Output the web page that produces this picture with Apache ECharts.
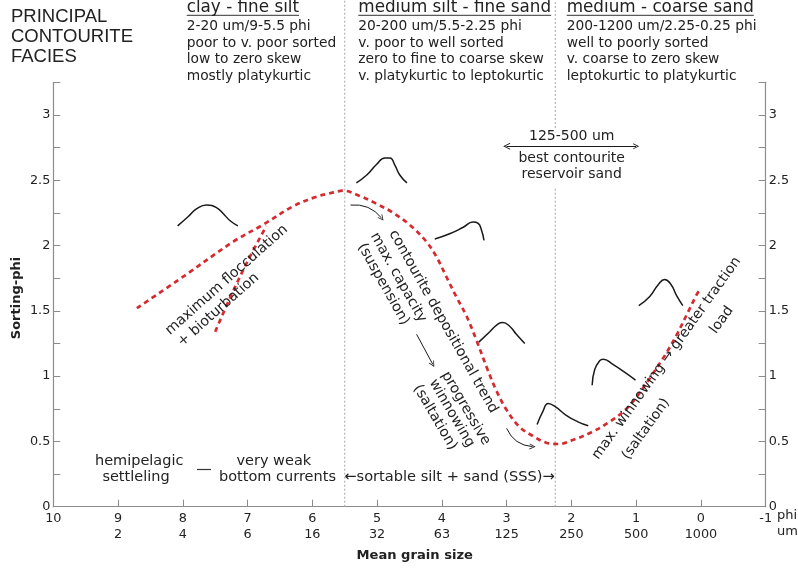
<!DOCTYPE html>
<html><head><meta charset="utf-8">
<script src="https://cdn.jsdelivr.net/npm/echarts@6/dist/echarts.min.js"></script>
<style>html,body{margin:0;padding:0;background:#fff}#c{width:798px;height:569px}</style>
</head><body><div id="c"></div>
<script>
// ---------- data ----------
const phiTicks = [10, 9, 8, 7, 6, 5, 4, 3, 2, 1, 0, -1];
const umLabels = ['', '2', '4', '6', '16', '32', '63', '125', '250', '500', '1000', ''];
const sortingLabels = [0, 0.5, 1, 1.5, 2, 2.5, 3];

// contourite depositional trend (mean grain size phi, sorting phi)
const trendMain = [[8.71,1.52],[7.97,1.77],[7.22,2.03],[6.76,2.16],[6.30,2.30],[5.96,2.37],[5.73,2.40],[5.52,2.42],[5.27,2.38],[5.01,2.32],[4.75,2.25],[4.50,2.16],[4.24,2.03],[4.08,1.91],[3.93,1.76],[3.78,1.61],[3.62,1.46],[3.47,1.28],[3.31,1.07],[3.16,0.89],[3.00,0.74],[2.80,0.61],[2.59,0.54],[2.39,0.49],[2.19,0.48],[1.98,0.51],[1.69,0.57],[1.41,0.65],[1.15,0.75],[0.95,0.87],[0.74,1.02],[0.53,1.18],[0.36,1.33],[0.20,1.49],[0.07,1.62],[0.02,1.66]];
const trendBioturbation = [[7.50,1.34],[7.27,1.60],[7.01,1.87],[6.71,2.15]];

// grain-size distribution sketches
const glyph1 = [[8.08,2.15],[7.92,2.22],[7.79,2.28],[7.63,2.31],[7.48,2.29],[7.35,2.23],[7.27,2.19],[7.15,2.15]];
const glyph2 = [[5.32,2.48],[5.16,2.54],[5.01,2.62],[4.88,2.67],[4.80,2.67],[4.73,2.62],[4.65,2.54],[4.54,2.48]];
const glyph3 = [[4.11,2.05],[3.88,2.09],[3.67,2.14],[3.52,2.18],[3.44,2.17],[3.39,2.12],[3.35,2.04]];
const glyph4 = [[3.43,1.26],[3.26,1.34],[3.13,1.40],[3.06,1.41],[2.95,1.38],[2.85,1.32],[2.72,1.25]];
const glyph5 = [[2.53,0.63],[2.44,0.73],[2.36,0.79],[2.26,0.77],[2.08,0.70],[1.90,0.65],[1.74,0.62]];
const glyph6 = [[1.68,0.93],[1.64,1.05],[1.56,1.12],[1.51,1.13],[1.36,1.09],[1.18,1.03],[1.01,0.97]];
const glyph7 = [[0.96,1.54],[0.79,1.61],[0.66,1.70],[0.56,1.74],[0.46,1.70],[0.38,1.62],[0.28,1.54]];

// facies boundaries (phi)
const boundaryFine = 5.5;
const boundaryCoarse = 2.25;

// arrows
const arrowSuspension = [[5.41,2.31],[4.93,2.21]];
const arrowWinnowing = [[4.39,1.32],[4.14,1.09]];
const arrowSaltation = [[3.00,0.60],[2.60,0.46]];
const reservoirRange = [[3,2.76],[1,2.76]];

// header texts
const sectionTitles = ['clay - fine silt', 'medium silt - fine sand', 'medium - coarse sand'];
const sectionDetails = [
  ['2-20 um/9-5.5 phi', 'poor to v. poor sorted', 'low to zero skew', 'mostly platykurtic'],
  ['20-200 um/5.5-2.25 phi', 'v. poor to well sorted', 'zero to fine to coarse skew', 'v. platykurtic to leptokurtic'],
  ['200-1200 um/2.25-0.25 phi', 'well to poorly sorted', 'v. coarse to zero skew', 'leptokurtic to platykurtic']
];
const titleLines = ['PRINCIPAL', 'CONTOURITE', 'FACIES'];

// ---------- chart ----------
const FF = 'DejaVu Sans';
const TXT = '#222';
const AX = '#8c8c8c';
const RED = '#d52a2e';
const chevron = 'path://M0,10L5,0L10,10L8.6,10L5,2.8L1.4,10Z';

const measureCtx = document.createElement('canvas').getContext('2d');
function textWidth(t, size, family) { measureCtx.font = size + 'px "' + family + '"'; return measureCtx.measureText(t).width; }

function txt(t, x, y, o) {
  o = o || {};
  return { type: 'text', x: x, y: y, rotation: (o.rot || 0) * Math.PI / 180, silent: true, z: 10,
    style: { text: t, fill: TXT, fontFamily: o.ff || FF, fontSize: o.size || 14,
      fontWeight: o.bold ? 'bold' : 'normal', align: o.align || 'center', verticalAlign: 'middle' } };
}

const graphics = [];
titleLines.forEach((t, i) => graphics.push(txt(t, 11, 17.2 + 20 * i, { ff: 'Liberation Sans', size: 18.5, align: 'left' })));
const secX = [186.7, 358.3, 566.7];
sectionTitles.forEach((t, i) => {
  graphics.push(txt(t, secX[i], 7.2, { size: 16.8, align: 'left' }));
  const w = textWidth(t, 16.8, FF);
  graphics.push({ type: 'line', silent: true, shape: { x1: secX[i], y1: 15.3, x2: secX[i] + w, y2: 15.3 }, style: { stroke: '#333', lineWidth: 1 } });
  sectionDetails[i].forEach((d, j) => graphics.push(txt(d, secX[i], 26.4 + 16.7 * j, { size: 13.8, align: 'left' })));
});
// bottom annotations
graphics.push(txt('hemipelagic', 139.2, 461, { size: 14.5 }));
graphics.push(txt('settleling', 136, 477.3, { size: 14.5 }));
graphics.push({ type: 'line', silent: true, shape: { x1: 197, y1: 469.5, x2: 211, y2: 469.5 }, style: { stroke: '#333', lineWidth: 1.2 } });
graphics.push(txt('very weak', 273.8, 461, { size: 14.5 }));
graphics.push(txt('bottom currents', 277.5, 477.3, { size: 14.5 }));
graphics.push(txt('\u2190sortable silt + sand (SSS)\u2192', 449.5, 477.3, { size: 14.6 }));
// reservoir
graphics.push(txt('125-500 um', 571.7, 136.7, { size: 14 }));
graphics.push(txt('best contourite', 571.7, 158.3, { size: 14 }));
graphics.push(txt('reservoir sand', 571.7, 174.3, { size: 14 }));
// rotated annotations
graphics.push(txt('maximum flocculation', 226.7, 280, { size: 14.2, rot: 41.6 }));
graphics.push(txt('+ bioturbation', 218.3, 310, { size: 14.2, rot: 41.6 }));
graphics.push(txt('contourite depositional trend', 443.3, 321.7, { size: 14.3, rot: -60.6 }));
graphics.push(txt('max. capacity', 398.3, 277.5, { size: 14.3, rot: -60.6 }));
graphics.push(txt('(suspension)', 383.3, 284.2, { size: 14.3, rot: -60.6 }));
graphics.push(txt('progressive', 465.8, 408.3, { size: 14.3, rot: -59.6 }));
graphics.push(txt('winnowing', 451.7, 413.3, { size: 14.3, rot: -59.6 }));
graphics.push(txt('(saltation)', 435, 417.5, { size: 14.3, rot: -59.6 }));
graphics.push(txt('max. winnowing \u2192 greater traction', 666.7, 358.3, { size: 14, rot: 54.4 }));
graphics.push(txt('(saltation)', 646, 429, { size: 14, rot: 54.4 }));
graphics.push(txt('load', 721.7, 320, { size: 14, rot: 54.4 }));
// axis names
graphics.push(txt('Mean grain size', 414.7, 555.3, { size: 13.1, bold: true }));
graphics.push(txt('Sorting-phi', 16.7, 298, { size: 13, bold: true, rot: 90 }));
graphics.push(txt('phi', 777, 516, { size: 13, align: 'left' }));
graphics.push(txt('um', 777, 532, { size: 13, align: 'left' }));

function yAxisCfg(pos) {
  return {
    type: 'value', position: pos, min: 0, max: 3.25, interval: 0.25,
    axisLine: { show: true, onZero: false, lineStyle: { color: AX, width: 1.2 } },
    axisTick: { show: true, inside: true, length: 7, lineStyle: { color: AX } },
    splitLine: { show: false },
    axisLabel: { show: true, margin: 3, color: TXT, fontFamily: FF, fontSize: 12.8,
      formatter: v => sortingLabels.some(s => Math.abs(s - v) < 1e-6) ? String(v) : '' }
  };
}

const trendStyle = { color: RED, width: 2.7, type: [5, 4] };
function glyphSeries(d) {
  return { type: 'line', data: d, smooth: 0.5, showSymbol: false, symbol: 'none', silent: true,
    lineStyle: { color: '#1a1a1a', width: 1.5 }, z: 4 };
}
function guide(d) {
  return { type: 'line', data: d, showSymbol: false, symbol: 'none', silent: true, clip: false,
    lineStyle: { color: '#a8a8a8', width: 1, type: [2, 2] }, z: 1 };
}

const option = {
  animation: false,
  backgroundColor: '#fff',
  grid: { left: 53.3, right: 32.3, top: 82.3, bottom: 62.3, containLabel: false },
  xAxis: {
    type: 'value', min: -1, max: 10, interval: 1, inverse: true,
    axisLine: { show: true, onZero: false, lineStyle: { color: AX, width: 1.2 } },
    axisTick: { show: true, inside: true, length: 7, lineStyle: { color: AX } },
    splitLine: { show: false },
    axisLabel: { color: TXT, fontFamily: FF, fontSize: 12.8, lineHeight: 16, margin: 4,
      formatter: v => { const i = phiTicks.indexOf(v); return v + '\n' + (i >= 0 ? umLabels[i] : ''); } }
  },
  yAxis: [yAxisCfg('left'), yAxisCfg('right')],
  graphic: graphics,
  series: [
    guide([[boundaryFine, 0], [boundaryFine, 3.88]]),
    guide([[boundaryCoarse, 0], [boundaryCoarse, 2.45]]),
    guide([[boundaryCoarse, 2.90], [boundaryCoarse, 3.88]]),
    { type: 'line', data: trendMain, smooth: 0.35, showSymbol: false, symbol: 'none', silent: true, lineStyle: trendStyle, z: 3 },
    { type: 'line', data: trendBioturbation, smooth: 0.35, showSymbol: false, symbol: 'none', silent: true, lineStyle: trendStyle, z: 3 },
    glyphSeries(glyph1), glyphSeries(glyph2), glyphSeries(glyph3), glyphSeries(glyph4),
    glyphSeries(glyph5), glyphSeries(glyph6), glyphSeries(glyph7),
    { type: 'lines', coordinateSystem: 'cartesian2d', silent: true, z: 5,
      symbol: ['none', chevron], symbolSize: [7, 6],
      lineStyle: { color: '#1a1a1a', width: 1, opacity: 1 },
      data: [
        { coords: arrowSuspension, lineStyle: { curveness: 0.27 } },
        { coords: arrowWinnowing, lineStyle: { curveness: 0 } },
        { coords: arrowSaltation, lineStyle: { curveness: -0.3 } }
      ] },
    { type: 'lines', coordinateSystem: 'cartesian2d', silent: true, z: 5,
      symbol: [chevron, chevron], symbolSize: [7, 6],
      lineStyle: { color: '#1a1a1a', width: 1, opacity: 1 },
      data: [{ coords: reservoirRange }] }
  ]
};

const chart = echarts.init(document.getElementById('c'), null, { renderer: 'canvas' });
chart.setOption(option);
</script>
</body></html>
